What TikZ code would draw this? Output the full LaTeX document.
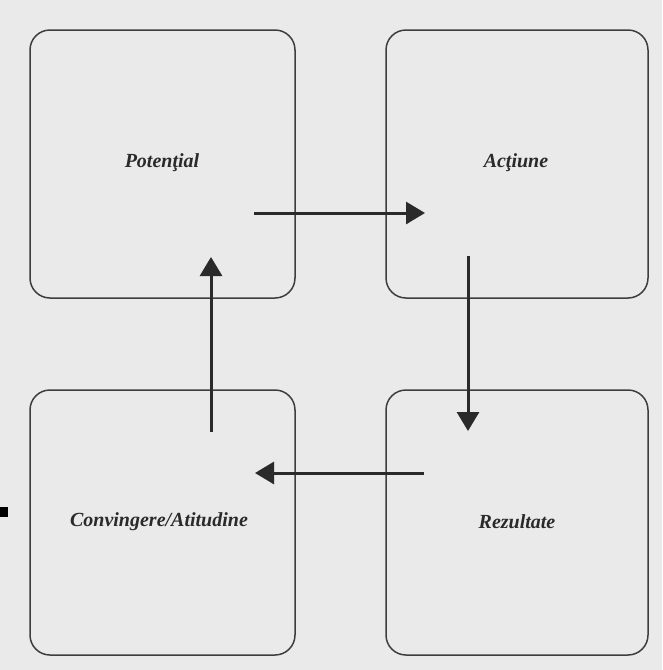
\documentclass[tikz,border=0pt]{standalone}
\usepackage{fontspec}
\setmainfont{Liberation Serif}
\usetikzlibrary{arrows.meta}
\definecolor{paper}{HTML}{EAEAEA}
\definecolor{ink}{HTML}{2A2A2A}
\definecolor{boxline}{HTML}{3E3E3E}
\tikzset{
  stagebox/.style={draw=boxline, line width=1.5pt, rounded corners=20pt, inner sep=0pt},
  stagelabel/.style={text=ink, font=\fontsize{20}{23}\selectfont\bfseries\itshape},
  flow/.style={draw=ink, line width=3pt, -{Triangle[length=19pt,width=22pt]}}
}
\begin{document}
\begin{tikzpicture}[x=1pt,y=-1pt]
  \fill[paper] (0,0) rectangle (662,670);
  \useasboundingbox (0,0) rectangle (662,670);
  % scan mark on the left edge
  \fill[black] (0,507) rectangle (8,517);
  % boxes
  \node[stagebox, minimum width=265pt, minimum height=268pt] (pot) at (162.5,164) {};
  \node[stagebox, minimum width=262pt, minimum height=268pt] (act) at (517,164) {};
  \node[stagebox, minimum width=265pt, minimum height=265pt] (conv) at (162.5,522.5) {};
  \node[stagebox, minimum width=262pt, minimum height=265pt] (rez) at (517,522.5) {};
  % labels
  \node[stagelabel] (potl) at (162,163) {Potenţial};
  \node[stagelabel] (actl) at (516,163) {Acţiune};
  \node[stagelabel] (convl) at (159,522) {Convingere/Atitudine};
  \node[stagelabel] (rezl) at (517,522) {Rezultate};
  % arrow end points
  \coordinate (a1s) at (254,213);
  \coordinate (a1e) at (425,213);
  \coordinate (a2s) at (468,256);
  \coordinate (a2e) at (468,431);
  \coordinate (a3s) at (424,473);
  \coordinate (a3e) at (255,473);
  \coordinate (a4s) at (211,432);
  \coordinate (a4e) at (211,257);
  \draw[flow] (a1s) -- (a1e);
  \draw[flow] (a2s) -- (a2e);
  \draw[flow] (a3s) -- (a3e);
  \draw[flow] (a4s) -- (a4e);
\end{tikzpicture}
\end{document}
